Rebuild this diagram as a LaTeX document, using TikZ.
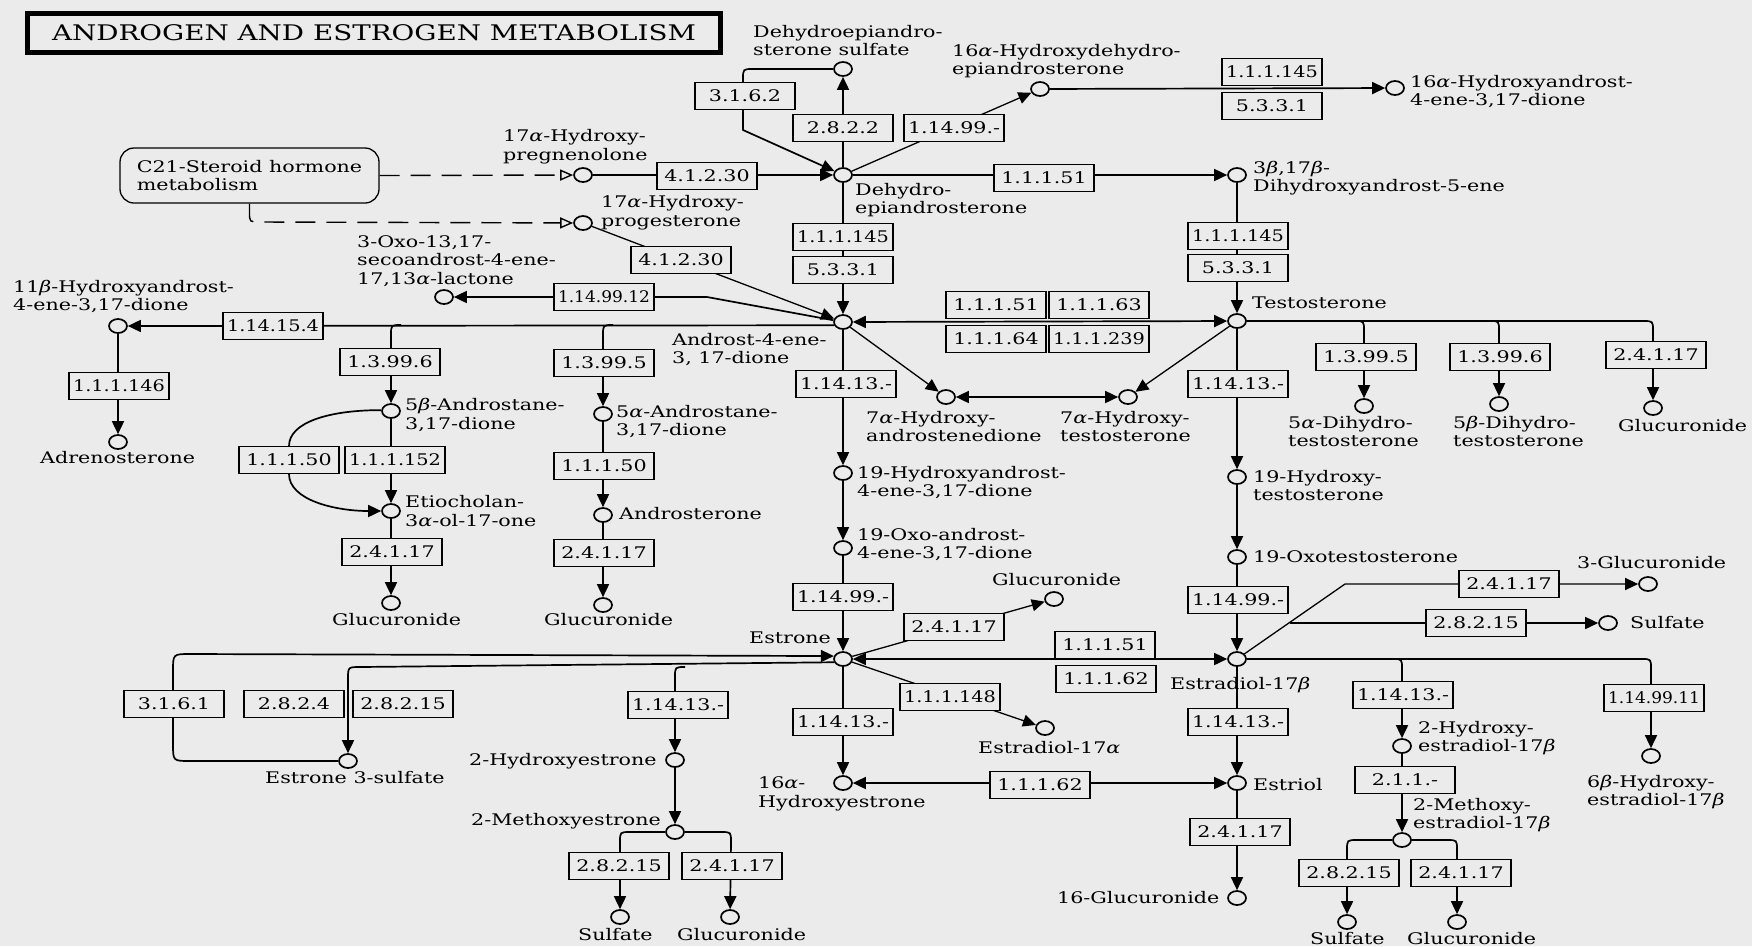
\documentclass[tikz,border=0pt]{standalone}
\usepackage{fontspec}
\usepackage{graphicx}
\setmainfont{DejaVu Serif}[FakeStretch=1.29]
\usetikzlibrary{arrows.meta,shapes.geometric}
\definecolor{paper}{RGB}{235,235,235}
\pgfdeclarelayer{back}
\pgfdeclarelayer{links}
\pgfsetlayers{back,links,main}
\newcommand\lblfont{\fontsize{16}{18.5}\selectfont}
\newcommand\titlefont{\fontsize{21.5}{24}\selectfont}
% enzyme numbers wider than the box are squeezed horizontally
\newcommand\ec[1]{\sbox0{#1}\ifdim\wd0>92pt\resizebox{92pt}{\height}{#1}\else#1\fi}
\newcommand\galpha{{\itshape α}}
\newcommand\gbeta{{\itshape β}}
\tikzset{
  cpd/.style={ellipse, draw, line width=1.7pt, fill=paper, minimum width=18pt,
              minimum height=14pt, inner sep=0pt},
  enz/.style={draw, line width=1.6pt, fill=paper, minimum width=100pt,
              minimum height=27pt, inner sep=0pt, font=\lblfont},
  % labels are placed by the baseline of their last line
  lbl/.style={anchor=base west, inner sep=0pt, align=left, font=\lblfont},
  link/.style={line width=1.7pt, line join=round},
  slim/.style={line width=1.3pt, line join=round},
  fw/.style={-{Triangle[length=13pt,width=12pt]}},
  twoway/.style={{Triangle[length=13pt,width=12pt]}-{Triangle[length=13pt,width=12pt]}},
  dsh/.style={line width=1.4pt, dash pattern=on 20pt off 11pt,
              -{Triangle[open,fill=paper,length=13pt,width=11pt]}}
}
\begin{document}
\begin{tikzpicture}[x=1pt,y=-1pt]
\useasboundingbox (0,0) rectangle (1752,946);
\begin{pgfonlayer}{back}
  \fill[paper] (0,0) rectangle (1752,946);
\end{pgfonlayer}

% title and map link
\node[draw, line width=5pt, minimum width=693pt, minimum height=39pt, inner sep=0pt,
      font=\titlefont] (title) at (374,33) {ANDROGEN AND ESTROGEN METABOLISM};
\node[draw, rounded corners=14pt, line width=1.3pt, minimum width=259pt,
      minimum height=55pt, align=left, font=\lblfont] (c21) at (249.5,175.5)
      {C21-Steroid hormone\\metabolism};

% compounds
\node[cpd] (dheas) at (843,69) {};
\node[cpd] (dhea) at (843,175) {};
\node[cpd] (preg) at (583,175) {};
\node[cpd] (prog) at (583,223) {};
\node[cpd] (lact) at (444,297) {};
\node[cpd] (andro) at (843,322) {};
\node[cpd] (ohdhea) at (1040,89) {};
\node[cpd] (ohandro16) at (1395,88) {};
\node[cpd] (diol) at (1237,175) {};
\node[cpd] (testo) at (1237,321) {};
\node[cpd] (ohandro11) at (118,326) {};
\node[cpd] (adreno) at (118,442) {};
\node[cpd] (bandrost) at (391,411) {};
\node[cpd] (etio) at (391,511) {};
\node[cpd] (gluEtio) at (391,603) {};
\node[cpd] (aandrost) at (603,414) {};
\node[cpd] (androst) at (603,515) {};
\node[cpd] (gluAndrost) at (603,605) {};
\node[cpd] (oh19a) at (843,473) {};
\node[cpd] (oxo19a) at (843,548) {};
\node[cpd] (oh7a) at (946,397) {};
\node[cpd] (oh7t) at (1128,397) {};
\node[cpd] (oh19t) at (1237,477) {};
\node[cpd] (oxo19t) at (1237,557) {};
\node[cpd] (gluE1) at (1054,599) {};
\node[cpd] (adht) at (1364,406) {};
\node[cpd] (bdht) at (1499,404) {};
\node[cpd] (gluT) at (1653,408) {};
\node[cpd] (glu3) at (1648,584) {};
\node[cpd] (sulE2) at (1608,623) {};
\node[cpd] (estrone) at (843,659) {};
\node[cpd] (ohE1) at (675,760) {};
\node[cpd] (meoE1) at (675,832) {};
\node[cpd] (sulE1) at (620,917) {};
\node[cpd] (gluE1b) at (730,917) {};
\node[cpd] (ohE16) at (843,783) {};
\node[cpd] (e3s) at (348,761) {};
\node[cpd] (estradiol) at (1237,659) {};
\node[cpd] (e2a) at (1045,728) {};
\node[cpd] (estriol) at (1237,783) {};
\node[cpd] (glu16) at (1237,898) {};
\node[cpd] (ohE2) at (1402,746) {};
\node[cpd] (meoE2) at (1402,840) {};
\node[cpd] (sulE2b) at (1347,922) {};
\node[cpd] (gluE2b) at (1457,922) {};
\node[cpd] (oh6b) at (1651,756) {};

% compound names
\node[lbl] (ldheas) at (753,55.5) {Dehydroepiandro-\\sterone sulfate};
\node[lbl] (lohdhea) at (952,74.5) {16\galpha-Hydroxydehydro-\\epiandrosterone};
\node[lbl] (lohandro16) at (1410,105.5) {16\galpha-Hydroxyandrost-\\4-ene-3,17-dione};
\node[lbl] (ldiol) at (1253,191.5) {3\gbeta,17\gbeta-\\Dihydroxyandrost-5-ene};
\node[lbl] (ldhea) at (855,213.5) {Dehydro-\\epiandrosterone};
\node[lbl] (lpreg) at (503,160) {17\galpha-Hydroxy-\\pregnenolone};
\node[lbl] (lprog) at (601,226) {17\galpha-Hydroxy-\\progesterone};
\node[lbl] (llact) at (357,284) {3-Oxo-13,17-\\secoandrost-4-ene-\\17,13\galpha-lactone};
\node[lbl] (lohandro11) at (13,310.5) {11\gbeta-Hydroxyandrost-\\4-ene-3,17-dione};
\node[lbl] (landro) at (672,363.5) {Androst-4-ene-\\3, 17-dione};
\node[lbl] (ltesto) at (1252,308) {Testosterone};
\node[lbl] (loh7a) at (866,441.5) {7\galpha-Hydroxy-\\androstenedione};
\node[lbl] (loh7t) at (1060,441.5) {7\galpha-Hydroxy-\\testosterone};
\node[lbl] (ladht) at (1288,446.5) {5\galpha-Dihydro-\\testosterone};
\node[lbl] (lbdht) at (1453,446.5) {5\gbeta-Dihydro-\\testosterone};
\node[lbl] (lgluT) at (1618,431) {Glucuronide};
\node[lbl] (ladreno) at (40,463) {Adrenosterone};
\node[lbl] (lbandrost) at (405,429) {5\gbeta-Androstane-\\3,17-dione};
\node[lbl] (letio) at (405,526) {Etiocholan-\\3\galpha-ol-17-one};
\node[lbl] (lgluEtio) at (332,625) {Glucuronide};
\node[lbl] (laandrost) at (616,435.5) {5\galpha-Androstane-\\3,17-dione};
\node[lbl] (landrost) at (619,519) {Androsterone};
\node[lbl] (lgluAndrost) at (544,625) {Glucuronide};
\node[lbl] (loh19a) at (857,496.5) {19-Hydroxyandrost-\\4-ene-3,17-dione};
\node[lbl] (loxo19a) at (857,558.5) {19-Oxo-androst-\\4-ene-3,17-dione};
\node[lbl] (loh19t) at (1253,500.5) {19-Hydroxy-\\testosterone};
\node[lbl] (loxo19t) at (1253,562) {19-Oxotestosterone};
\node[lbl] (lgluE1) at (992,585) {Glucuronide};
\node[lbl] (lglu3) at (1577,568) {3-Glucuronide};
\node[lbl] (lsulE2) at (1630,628) {Sulfate};
\node[lbl] (lestrone) at (749,643) {Estrone};
\node[lbl] (lestradiol) at (1170,689) {Estradiol-17\gbeta};
\node[lbl] (le2a) at (978,753) {Estradiol-17\galpha};
\node[lbl] (lestriol) at (1253,790) {Estriol};
\node[lbl] (lglu16) at (1057,903) {16-Glucuronide};
\node[lbl] (lohE16) at (758,807) {16\galpha-\\Hydroxyestrone};
\node[lbl] (lohE1) at (469,765) {2-Hydroxyestrone};
\node[lbl] (lmeoE1) at (471,825) {2-Methoxyestrone};
\node[lbl] (lsulE1) at (578,940) {Sulfate};
\node[lbl] (lgluE1b) at (677,940) {Glucuronide};
\node[lbl] (le3s) at (265,783) {Estrone 3-sulfate};
\node[lbl] (lohE2) at (1418,751.5) {2-Hydroxy-\\estradiol-17\gbeta};
\node[lbl] (lmeoE2) at (1413,828.5) {2-Methoxy-\\estradiol-17\gbeta};
\node[lbl] (lsulE2b) at (1310,944) {Sulfate};
\node[lbl] (lgluE2b) at (1407,944) {Glucuronide};
\node[lbl] (loh6b) at (1587,805.5) {6\gbeta-Hydroxy-\\estradiol-17\gbeta};

% enzymes
\node[enz] (e1) at (745,96) {\ec{3.1.6.2}};
\node[enz] (e2) at (843,128) {\ec{2.8.2.2}};
\node[enz] (e3) at (707,176) {\ec{4.1.2.30}};
\node[enz] (e4) at (681,260) {\ec{4.1.2.30}};
\node[enz] (e5) at (604,297) {\ec{1.14.99.12}};
\node[enz] (e6) at (843,237) {\ec{1.1.1.145}};
\node[enz] (e7) at (843,270) {\ec{5.3.3.1}};
\node[enz] (e8) at (954,128) {\ec{1.14.99.-}};
\node[enz] (e9) at (1272,72) {\ec{1.1.1.145}};
\node[enz] (e10) at (1272,106) {\ec{5.3.3.1}};
\node[enz] (e11) at (1044,178) {\ec{1.1.1.51}};
\node[enz] (e12) at (1238,236) {\ec{1.1.1.145}};
\node[enz] (e13) at (1238,268) {\ec{5.3.3.1}};
\node[enz] (e14) at (996,305) {\ec{1.1.1.51}};
\node[enz] (e15) at (1099,305) {\ec{1.1.1.63}};
\node[enz] (e16) at (996,339) {\ec{1.1.1.64}};
\node[enz] (e17) at (1099,339) {\ec{1.1.1.239}};
\node[enz] (e18) at (1238,384) {\ec{1.14.13.-}};
\node[enz] (e19) at (1238,600) {\ec{1.14.99.-}};
\node[enz] (e20) at (954,627) {\ec{2.4.1.17}};
\node[enz] (e21) at (604,363) {\ec{1.3.99.5}};
\node[enz] (e22) at (604,466) {\ec{1.1.1.50}};
\node[enz] (e23) at (604,553) {\ec{2.4.1.17}};
\node[enz] (e24) at (846,384) {\ec{1.14.13.-}};
\node[enz] (e25) at (843,597) {\ec{1.14.99.-}};
\node[enz] (e26) at (273,326) {\ec{1.14.15.4}};
\node[enz] (e27) at (119,386) {\ec{1.1.1.146}};
\node[enz] (e28) at (390,362) {\ec{1.3.99.6}};
\node[enz] (e29) at (289,460) {\ec{1.1.1.50}};
\node[enz] (e30) at (395,460) {\ec{1.1.1.152}};
\node[enz] (e31) at (392,552) {\ec{2.4.1.17}};
\node[enz] (e32) at (1366,357) {\ec{1.3.99.5}};
\node[enz] (e33) at (1500,357) {\ec{1.3.99.6}};
\node[enz] (e34) at (1656,355) {\ec{2.4.1.17}};
\node[enz] (e35) at (1509,584) {\ec{2.4.1.17}};
\node[enz] (e36) at (1476,623) {\ec{2.8.2.15}};
\node[enz] (e37) at (174,704) {\ec{3.1.6.1}};
\node[enz] (e38) at (294,704) {\ec{2.8.2.4}};
\node[enz] (e39) at (403,704) {\ec{2.8.2.15}};
\node[enz] (e40) at (678,705) {\ec{1.14.13.-}};
\node[enz] (e41) at (843,722) {\ec{1.14.13.-}};
\node[enz] (e42) at (619,866) {\ec{2.8.2.15}};
\node[enz] (e43) at (732,866) {\ec{2.4.1.17}};
\node[enz] (e44) at (1105,645) {\ec{1.1.1.51}};
\node[enz] (e45) at (1106,679) {\ec{1.1.1.62}};
\node[enz] (e46) at (950,697) {\ec{1.1.1.148}};
\node[enz] (e47) at (1040,785) {\ec{1.1.1.62}};
\node[enz] (e48) at (1238,722) {\ec{1.14.13.-}};
\node[enz] (e49) at (1240,832) {\ec{2.4.1.17}};
\node[enz] (e50) at (1403,695) {\ec{1.14.13.-}};
\node[enz] (e51) at (1405,780) {\ec{2.1.1.-}};
\node[enz] (e52) at (1654,698) {\ec{1.14.99.11}};
\node[enz] (e53) at (1349,873) {\ec{2.8.2.15}};
\node[enz] (e54) at (1461,873) {\ec{2.4.1.17}};

% reactions
\begin{pgfonlayer}{links}
  % links from the C21-steroid map
  \draw[dsh] (c21.east) -- (preg);
  \draw[dsh] (c21.south) -- (249.5,212) .. controls (249.5,222) .. (259.5,222) -- (prog);
  % dehydroepiandrosterone region
  \draw[link,fw] (preg) -- (dhea);
  \draw[slim,fw] (prog) -- (andro);
  \draw[link,fw] (andro) -- (707,297) -- (lact);
  \draw[link,fw] (dheas.west) -- (753,69) .. controls (743,69) .. (743,79) -- (743,130) -- (dhea);
  \draw[link,fw] (dhea) -- (dheas);
  \draw[slim,fw] (dhea) -- (ohdhea);
  \draw[link,fw] (ohdhea) -- (ohandro16);
  \draw[link,fw] (dhea) -- (diol);
  \draw[link,fw] (dhea) -- (andro);
  \draw[link,fw] (diol) -- (testo);
  % androstenedione / testosterone
  \draw[link,twoway] (andro) -- (testo);
  \draw[slim,fw] (andro) -- (oh7a);
  \draw[slim,fw] (testo) -- (oh7t);
  \draw[link,twoway] (oh7a) -- (oh7t);
  \draw[link,fw] (andro.200) -- (ohandro11);
  \draw[link,fw] (401,325) .. controls (391,325) .. (391,335) -- (bandrost);
  \draw[link,fw] (613,325) .. controls (603,325) .. (603,335) -- (aandrost);
  \draw[link,fw] (ohandro11) -- (adreno);
  \draw[link,fw] (bandrost) -- (etio);
  \draw[link,fw] (bandrost.175) .. controls (330,410) and (289,422) .. (289,446)
        -- (289,474) .. controls (289,500) and (335,511) .. (etio.west);
  \draw[link,fw] (etio) -- (gluEtio);
  \draw[link,fw] (aandrost) -- (androst);
  \draw[link,fw] (androst) -- (gluAndrost);
  \draw[link,fw] (andro) -- (oh19a);
  \draw[link,fw] (oh19a) -- (oxo19a);
  \draw[link,fw] (oxo19a) -- (estrone);
  \draw[link,fw] (testo) -- (oh19t);
  \draw[link,fw] (oh19t) -- (oxo19t);
  \draw[link,fw] (oxo19t) -- (estradiol);
  \draw[link,fw] (testo.east) -- (1643,321) .. controls (1653,321) .. (1653,331) -- (gluT);
  \draw[link,fw] (1355,321) .. controls (1364,321) .. (1364,331) -- (adht);
  \draw[link,fw] (1490,321) .. controls (1499,321) .. (1499,331) -- (bdht);
  % estradiol
  \draw[slim,fw] (estradiol) -- (1345,584) -- (glu3);
  \draw[link,fw] (1290,623) -- (sulE2);
  \draw[link,fw] (estradiol.east) -- (1642,659) .. controls (1651,659) .. (1651,669) -- (oh6b);
  \draw[link,fw] (1393,659) .. controls (1402,659) .. (1402,669) -- (ohE2);
  \draw[link,fw] (ohE2) -- (meoE2);
  \draw[link,fw] (meoE2.west) -- (1357,840) .. controls (1347,840) .. (1347,850) -- (sulE2b);
  \draw[link,fw] (meoE2.east) -- (1447,840) .. controls (1457,840) .. (1457,850) -- (gluE2b);
  % estrone
  \draw[link,twoway] (estrone) -- (estradiol);
  \draw[slim,fw] (estrone) -- (gluE1);
  \draw[slim,fw] (estrone) -- (e2a);
  \draw[link,fw] (estrone) -- (ohE16);
  \draw[link,twoway] (ohE16) -- (estriol);
  \draw[link,fw] (estradiol) -- (estriol);
  \draw[link,fw] (estriol) -- (glu16);
  \draw[link,fw] (e3s.west) -- (190,761) .. controls (173,761) .. (173,744) -- (173,671)
        .. controls (173,654) .. (190,654) -- (estrone.162);
  \draw[link,fw] (estrone.200) -- (360,667) .. controls (348,667) .. (348,679) -- (e3s);
  \draw[link,fw] (685,667) .. controls (675,667) .. (675,677) -- (ohE1);
  \draw[link,fw] (ohE1) -- (meoE1);
  \draw[link,fw] (meoE1.west) -- (630,832) .. controls (620,832) .. (620,842) -- (sulE1);
  \draw[link,fw] (meoE1.east) -- (721,832) .. controls (731,832) .. (731,842) -- (gluE1b);
\end{pgfonlayer}
\end{tikzpicture}
\end{document}
